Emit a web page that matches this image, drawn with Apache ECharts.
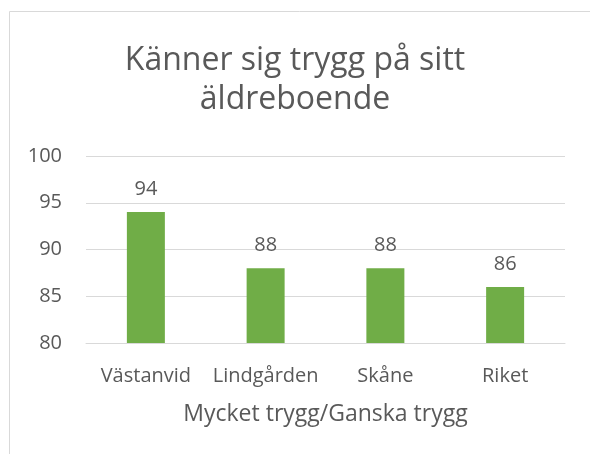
<!DOCTYPE html>
<html>
<head>
<meta charset="utf-8">
<script src="https://cdn.jsdelivr.net/npm/echarts@6/dist/echarts.min.js"></script>
<style>
  html, body { margin: 0; padding: 0; background: #fff; }
  #chart { width: 590px; height: 454px; }
</style>
</head>
<body>
<div id="chart"></div>
<script>
  // data
  const categories = ['Västanvid', 'Lindgården', 'Skåne', 'Riket'];
  const values = [94, 88, 88, 86];
  const titleText = 'Känner sig trygg på sitt\näldreboende';
  const axisName = 'Mycket trygg/Ganska trygg';

  const textColor = '#595959';
  const font = '"Open Sans", "Liberation Sans", sans-serif';

  const chart = echarts.init(document.getElementById('chart'));
  chart.setOption({
    animation: false,
    graphic: [
      {
        type: 'polyline',
        shape: { points: [[9.5, 454], [9.5, 11.5], [590, 11.5]] },
        style: { stroke: '#d9d9d9', fill: null, lineWidth: 1 },
      },
    ],
    title: {
      text: titleText,
      left: 'center',
      top: 36,
      padding: [5, 0, 5, 11],
      textStyle: {
        fontFamily: font,
        fontSize: 32,
        fontWeight: 'normal',
        color: textColor,
        lineHeight: 39,
        align: 'center',
      },
    },
    grid: {
      left: 86,
      right: 25,
      top: 156,
      bottom: 111,
      containLabel: false,
    },
    xAxis: {
      type: 'category',
      data: categories,
      axisLine: { lineStyle: { color: '#d9d9d9', width: 1 } },
      axisTick: { show: false },
      axisLabel: {
        color: textColor,
        fontFamily: font,
        fontSize: 20,
        margin: 23,
        interval: 0,
      },
      name: axisName,
      nameLocation: 'middle',
      nameGap: 60,
      nameTextStyle: {
        color: textColor,
        fontFamily: font,
        fontSize: 23,
      },
    },
    yAxis: {
      type: 'value',
      min: 80,
      max: 100,
      interval: 5,
      axisLine: { show: false },
      axisTick: { show: false },
      splitLine: { lineStyle: { color: '#d9d9d9', width: 1 } },
      axisLabel: {
        color: textColor,
        fontFamily: font,
        fontSize: 20,
        margin: 24,
      },
    },
    series: [
      {
        type: 'bar',
        data: values,
        barWidth: 38,
        itemStyle: { color: '#70AD47' },
        label: {
          show: true,
          position: 'top',
          distance: 13,
          color: textColor,
          fontFamily: font,
          fontSize: 20,
        },
      },
    ],
  });
</script>
</body>
</html>
